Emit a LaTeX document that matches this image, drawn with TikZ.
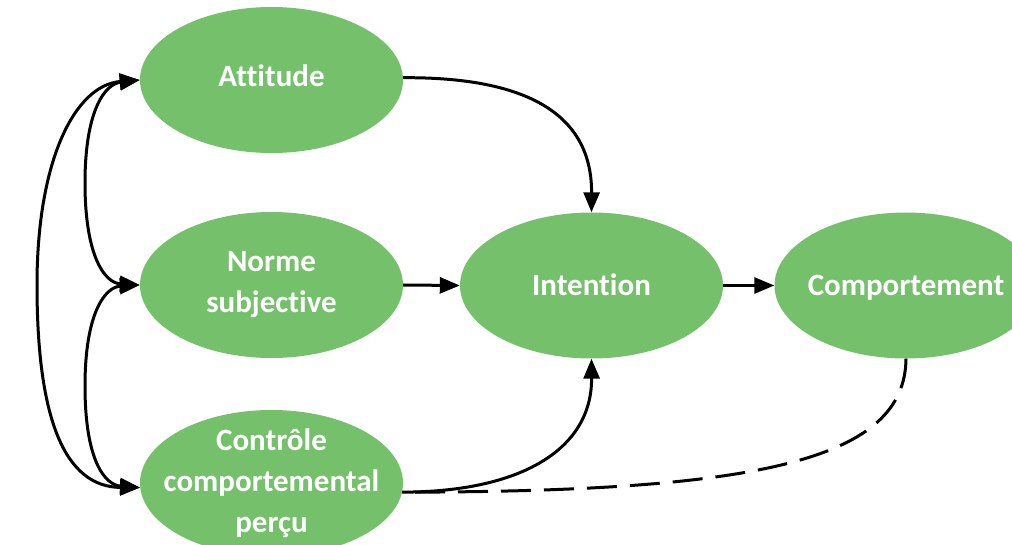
\documentclass[tikz,border=0pt]{standalone}
\usepackage{fontspec}
\setmainfont{Carlito}[Ligatures=NoCommon]
\usetikzlibrary{shapes.geometric,arrows.meta}
\definecolor{nodegreen}{RGB}{117,193,107}
\begin{document}
\begin{tikzpicture}[x=1pt,y=-1pt,
  bubble/.style={ellipse, fill=nodegreen, draw=none, minimum width=263pt, minimum height=146pt,
    inner sep=-70pt, align=center, text=white, font=\fontsize{31}{41}\selectfont\bfseries},
  link/.style={line width=3pt, -{Triangle[length=20pt,width=16pt]}},
  duo/.style={line width=3pt, {Triangle[length=20pt,width=16pt]}-{Triangle[length=20pt,width=16pt]}},
  dashlink/.style={line width=3pt, dash pattern=on 30pt off 13pt}]
\useasboundingbox (0,0) rectangle (1012,545);
\node[bubble, text depth=8pt] (att) at (271.5,80) {Attitude};
\node[bubble] (nor) at (271.5,285) {Norme\\subjective};
\node[bubble] (con) at (271.5,483) {Contrôle\\comportemental\\perçu};
\node[bubble, text depth=2pt] (int) at (591.5,285.5) {Intention};
\node[bubble, text depth=0pt] (com) at (906,285.5) {Comportement};
% left bidirectional links
\draw[duo] (att.west) .. controls (75,85) and (37,160) .. (37,285)
  .. controls (37,420) and (65,487) .. (con.182);
\draw[duo] (att.west) .. controls (105,84) and (85,110) .. (85,183)
  .. controls (85,257) and (105,283) .. (nor.west);
\draw[duo] (nor.west) .. controls (105,287) and (85,313) .. (85,386)
  .. controls (85,461) and (105,485) .. (con.182);
% links to intention
\draw[link] (att.1) .. controls (520,77) and (592,110) .. (int.north);
\draw[link] (nor.east) -- (int.west);
\draw[link] (con.-4) .. controls (520,492) and (592,450) .. (int.south);
\draw[link] (int.east) -- (com.west);
% dashed feedback
\draw[dashlink] (com.south) .. controls (905,460) and (760,492) .. (con.-4);
\end{tikzpicture}
\end{document}
